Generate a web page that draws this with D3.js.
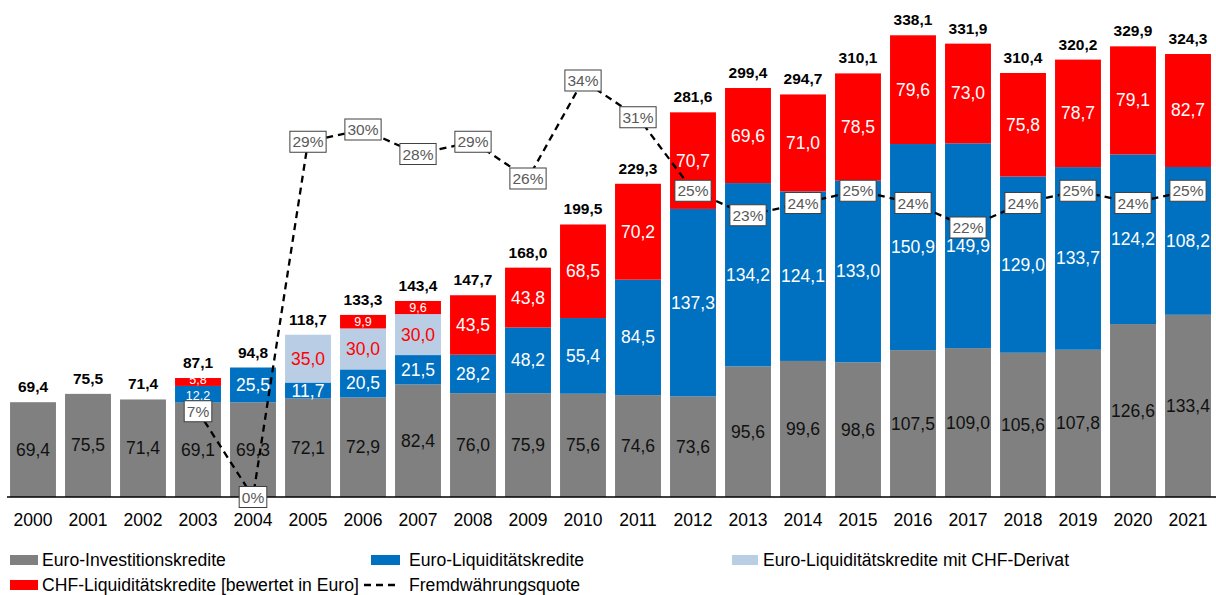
<!DOCTYPE html>
<html>
<head>
<meta charset="utf-8">
<script src="https://cdn.jsdelivr.net/npm/d3@7"></script>
<style>
  html, body { margin: 0; padding: 0; background: #fff; }
  svg { display: block; font-family: "Liberation Sans", Arial, sans-serif; }
</style>
</head>
<body>
<svg id="chart" width="1216" height="595"></svg>
<script>
// Kreditbestand in Mio. Euro, gestapelt nach Kreditart
const years = ["2000","2001","2002","2003","2004","2005","2006","2007","2008","2009","2010",
               "2011","2012","2013","2014","2015","2016","2017","2018","2019","2020","2021"];
const euroInvestitionskredite = [69.4,75.5,71.4,69.1,69.3,72.1,72.9,82.4,76.0,75.9,75.6,
                                 74.6,73.6,95.6,99.6,98.6,107.5,109.0,105.6,107.8,126.6,133.4];
const euroLiquiditaetskredite = [0,0,0,12.2,25.5,11.7,20.5,21.5,28.2,48.2,55.4,
                                 84.5,137.3,134.2,124.1,133.0,150.9,149.9,129.0,133.7,124.2,108.2];
const euroLiquiditaetMitDerivat = [0,0,0,0,0,35.0,30.0,30.0,0,0,0,
                                   0,0,0,0,0,0,0,0,0,0,0];
const chfLiquiditaetskredite = [0,0,0,5.8,0,0,9.9,9.6,43.5,43.8,68.5,
                                70.2,70.7,69.6,71.0,78.5,79.6,73.0,75.8,78.7,79.1,82.7];
const gesamt = [69.4,75.5,71.4,87.1,94.8,118.7,133.3,143.4,147.7,168.0,199.5,
                229.3,281.6,299.4,294.7,310.1,338.1,331.9,310.4,320.2,329.9,324.3];
// Fremdwährungsquote in Prozent
const fremdwaehrungsquote = [null,null,null,7,0,29,30,28,29,26,34,
                             31,25,23,24,25,24,22,24,25,24,25];

const seriesNames = ["Euro-Investitionskredite","Euro-Liquiditätskredite",
                     "Euro-Liquiditätskredite mit CHF-Derivat","CHF-Liquiditätskredite [bewertet in Euro]"];
const lineName = "Fremdwährungsquote";

const colors = ["#808080", "#0070C0", "#B9CDE5", "#FF0000"];
const labelColors = ["#111111", "#ffffff", "#FF0000", "#ffffff"];

const svg = d3.select("#chart");
const baseY = 497;

const x = d3.scaleBand().domain(years).range([5.5, 1215.5]).paddingInner(0.165).paddingOuter(0.0825);
const y = d3.scaleLinear().domain([0, 360]).range([baseY, baseY - 360 * 1.366]);
const y2 = d3.scaleLinear().domain([0, 40]).range([baseY, baseY - 40 * 12.25]);

const rows = years.map((yr, i) => ({
  year: yr,
  s0: euroInvestitionskredite[i],
  s1: euroLiquiditaetskredite[i],
  s2: euroLiquiditaetMitDerivat[i],
  s3: chfLiquiditaetskredite[i],
  total: gesamt[i],
  quote: fremdwaehrungsquote[i]
}));
const keys = ["s0", "s1", "s2", "s3"];
const stacked = d3.stack().keys(keys)(rows);

const fmt = v => d3.format(".1f")(v).replace(".", ",");

// Balken
const gBars = svg.append("g");
stacked.forEach((layer, li) => {
  gBars.selectAll(null).data(layer.filter(d => d[1] - d[0] > 0)).enter()
    .append("rect")
    .attr("x", d => x(d.data.year))
    .attr("width", x.bandwidth())
    .attr("y", d => y(d[1]))
    .attr("height", d => y(d[0]) - y(d[1]))
    .attr("fill", colors[li]);
});

// Segmentbeschriftungen (schmale Segmente mit kleinerer Schrift)
const isSmall = (d, li) => (li > 0 && d.data.year === "2003") || d[1] - d[0] < 10;
const gSegLabels = svg.append("g");
stacked.forEach((layer, li) => {
  gSegLabels.selectAll(null).data(layer.filter(d => d[1] - d[0] > 0)).enter()
    .append("text")
    .attr("x", d => x(d.data.year) + x.bandwidth() / 2)
    .attr("y", d => (y(d[0]) + y(d[1])) / 2 + (isSmall(d, li) && d.data.year === "2003" ? (li === 1 ? 1.5 : -1.5) : 0))
    .attr("text-anchor", "middle")
    .attr("dominant-baseline", "central")
    .attr("font-size", d => isSmall(d, li) ? "12.5px" : "17.5px")
    .attr("fill", labelColors[li])
    .text(d => fmt(d[1] - d[0]));
});

// x-Achse
svg.append("line")
  .attr("x1", 7).attr("x2", 1216)
  .attr("y1", baseY).attr("y2", baseY)
  .attr("stroke", "#000").attr("stroke-width", 1.6);

svg.append("g").selectAll(null).data(years).enter()
  .append("text")
  .attr("x", d => x(d) + x.bandwidth() / 2)
  .attr("y", 526)
  .attr("text-anchor", "middle")
  .attr("font-size", "17.5px")
  .attr("fill", "#000")
  .text(d => d);

// Linie der Fremdwährungsquote
const quotePts = rows.filter(d => d.quote !== null);
const quoteLine = d3.line()
  .x(d => x(d.year) + x.bandwidth() / 2)
  .y(d => y2(d.quote));
svg.append("path")
  .datum(quotePts)
  .attr("d", quoteLine)
  .attr("fill", "none")
  .attr("stroke", "#000")
  .attr("stroke-width", 2.3)
  .attr("stroke-dasharray", "7,5");

// Beschriftungskästen der Quote
const gQuote = svg.append("g");
quotePts.forEach(d => {
  const cx = x(d.year) + x.bandwidth() / 2;
  const cy = y2(d.quote);
  const t = gQuote.append("text")
    .attr("x", cx).attr("y", cy)
    .attr("text-anchor", "middle")
    .attr("dominant-baseline", "central")
    .attr("font-size", "15.5px")
    .attr("fill", "#595959")
    .text(d.quote + "%");
  const bb = t.node().getBBox();
  gQuote.insert("rect", () => t.node())
    .attr("x", cx - bb.width / 2 - 2.5)
    .attr("y", cy - 10.5)
    .attr("width", bb.width + 5)
    .attr("height", 21)
    .attr("fill", "#fff")
    .attr("stroke", "#404040")
    .attr("stroke-width", 1);
});

// Summen über den Balken
const topLayer = stacked[stacked.length - 1];
svg.append("g").selectAll(null).data(topLayer).enter()
  .append("text")
  .attr("x", d => x(d.data.year) + x.bandwidth() / 2)
  .attr("y", d => y(d[1]) - 10)
  .attr("text-anchor", "middle")
  .attr("font-size", "15.5px")
  .attr("font-weight", "bold")
  .attr("fill", "#000")
  .text(d => fmt(d.data.total));

// Legende
const legend = svg.append("g").attr("font-size", "17.6px").attr("fill", "#000");
const legendItems = [
  { type: "rect", color: colors[0], label: seriesNames[0], x: 10, y: 560, w: 28, tx: 42 },
  { type: "rect", color: colors[1], label: seriesNames[1], x: 371, y: 560, w: 29, tx: 409 },
  { type: "rect", color: colors[2], label: seriesNames[2], x: 732, y: 560, w: 26, tx: 763 },
  { type: "rect", color: colors[3], label: seriesNames[3], x: 10, y: 585, w: 28, tx: 42 },
  { type: "line", color: "#000", label: lineName, x: 364, y: 585, w: 34, tx: 409 }
];
legendItems.forEach(it => {
  if (it.type === "rect") {
    legend.append("rect").attr("x", it.x).attr("y", it.y - 5).attr("width", it.w).attr("height", 10).attr("fill", it.color);
  } else {
    legend.append("line").attr("x1", it.x).attr("x2", it.x + it.w).attr("y1", it.y).attr("y2", it.y)
      .attr("stroke", it.color).attr("stroke-width", 2.3).attr("stroke-dasharray", "7,5");
  }
  legend.append("text").attr("x", it.tx).attr("y", it.y).attr("dominant-baseline", "central").text(it.label);
});
</script>
</body>
</html>
